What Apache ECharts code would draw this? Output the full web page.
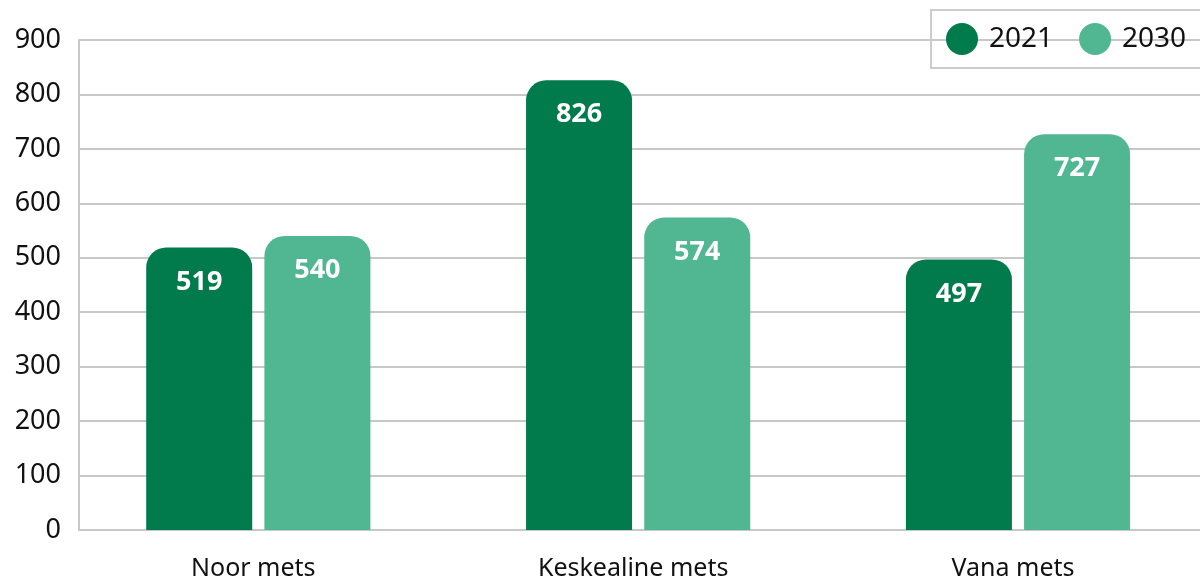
<!DOCTYPE html>
<html>
<head>
<meta charset="utf-8">
<script src="https://cdn.jsdelivr.net/npm/echarts@6/dist/echarts.min.js"></script>
<style>html,body{margin:0;padding:0;background:#fff}#c{width:1200px;height:582px}</style>
</head>
<body>
<div id="c"></div>
<script>
const categories = ['Noor mets', 'Keskealine mets', 'Vana mets'];
const seriesNames = ['2021', '2030'];
const values2021 = [519, 826, 497];
const values2030 = [540, 574, 727];
const yTicks = [0, 100, 200, 300, 400, 500, 600, 700, 800, 900];

const FONT = '"Noto Sans", "Liberation Sans", sans-serif';
const colors = ['#017a4c', '#50b792'];
const chart = echarts.init(document.getElementById('c'), null, {renderer: 'canvas'});
const yMin = yTicks[0], yMax = yTicks[yTicks.length - 1], yStep = yTicks[1] - yTicks[0];

const labelCfg = {
  show: true, position: 'insideTop', distance: 21,
  color: '#fff', fontFamily: FONT, fontWeight: 'bold', fontSize: 27
};

chart.setOption({
  animation: false,
  textStyle: {fontFamily: FONT},
  legend: {
    data: seriesNames,
    orient: 'horizontal',
    left: 931, top: 10, width: 320,
    icon: 'circle', itemWidth: 32, itemHeight: 32, itemGap: 26,
    padding: [13, 20, 13, 15],
    borderColor: '#cccccc', borderWidth: 2,
    textStyle: {fontFamily: FONT, fontSize: 28, color: '#111', padding: [0, 0, 0, 6]}
  },
  grid: [
    {left: 79, right: 0, top: 40, bottom: 52},
    {left: 258.3, right: 182, top: 40, bottom: 52}
  ],
  xAxis: [
    {gridIndex: 0, type: 'category', data: categories,
     axisLine: {show: true, lineStyle: {color: '#c8c8c8', width: 2}},
     axisTick: {show: false}, axisLabel: {show: false}},
    {gridIndex: 1, type: 'category', data: categories, boundaryGap: false,
     axisLine: {show: false}, axisTick: {show: false},
     axisLabel: {show: true, color: '#111', fontFamily: FONT, fontSize: 25, margin: 26,
                 padding: [0, 10, 0, 0]}}
  ],
  yAxis: [
    {gridIndex: 0, type: 'value', min: yMin, max: yMax, interval: yStep,
     axisLine: {show: true, lineStyle: {color: '#c8c8c8', width: 2}},
     axisTick: {show: false},
     axisLabel: {color: '#111', fontFamily: FONT, fontSize: 27, margin: 18},
     splitLine: {show: true, lineStyle: {color: '#c8c8c8', width: 2}}},
    {gridIndex: 1, type: 'value', min: yMin, max: yMax, interval: yStep, show: false}
  ],
  series: [
    {name: seriesNames[0], type: 'bar', xAxisIndex: 1, yAxisIndex: 1, clip: false,
     data: values2021, barWidth: 106, barGap: '11.5%',
     itemStyle: {color: colors[0], borderRadius: [20, 20, 0, 0]}, label: labelCfg},
    {name: seriesNames[1], type: 'bar', xAxisIndex: 1, yAxisIndex: 1, clip: false,
     data: values2030, barWidth: 106, barGap: '11.5%',
     itemStyle: {color: colors[1], borderRadius: [20, 20, 0, 0]}, label: labelCfg}
  ]
});
</script>
</body>
</html>
